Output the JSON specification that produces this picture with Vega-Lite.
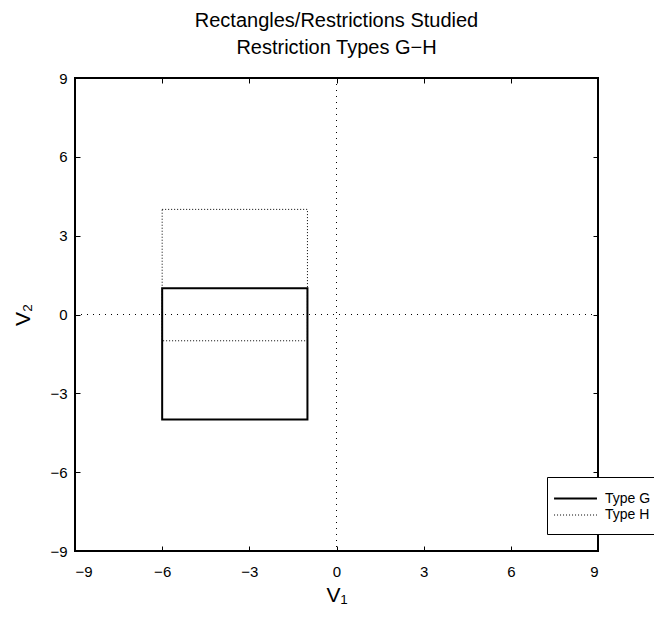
{
  "$schema": "https://vega.github.io/schema/vega-lite/v6.json",
  "width": 523,
  "height": 473,
  "autosize": "none",
  "padding": {"left": 75, "top": 78, "right": 56, "bottom": 71},
  "background": "white",
  "config": {
    "font": "Liberation Sans",
    "view": {"stroke": "black", "strokeWidth": 2},
    "axis": {
      "grid": false,
      "domain": false,
      "tickColor": "black",
      "tickSize": -5,
      "tickWidth": 1,
      "labelFontSize": 15,
      "labelColor": "black",
      "titleFontSize": 21,
      "titleFontWeight": "normal",
      "titleColor": "black"
    }
  },
  "title": {
    "text": ["Rectangles/Restrictions Studied", "Restriction Types G−H"],
    "fontSize": 20,
    "fontWeight": "normal",
    "lineHeight": 27,
    "offset": 13,
    "anchor": "middle",
    "color": "black"
  },
  "data": {
    "values": [
      {"type": "Type H", "x1": -6, "x2": -1, "y1": -1, "y2": 4},
      {"type": "Type G", "x1": -6, "x2": -1, "y1": -4, "y2": 1}
    ]
  },
  "layer": [
    {
      "mark": {"type": "rule", "strokeDash": [1, 5], "color": "black", "strokeWidth": 1},
      "encoding": {
        "y": {"datum": 0, "type": "quantitative", "scale": {"domain": [-9, 9], "nice": false, "zero": false}, "axis": null}
      }
    },
    {
      "mark": {"type": "rule", "strokeDash": [1, 5], "color": "black", "strokeWidth": 1},
      "encoding": {
        "x": {"datum": 0, "type": "quantitative", "scale": {"domain": [-9, 9], "nice": false, "zero": false}, "axis": null}
      }
    },
    {
      "transform": [{"filter": "datum.type === 'Type H'"}],
      "mark": {"type": "rect", "filled": false, "stroke": "black", "strokeWidth": 1, "strokeDash": [1, 2]},
      "encoding": {
        "x": {"field": "x1", "type": "quantitative", "scale": {"domain": [-9, 9], "nice": false, "zero": false}, "axis": null},
        "x2": {"field": "x2"},
        "y": {"field": "y1", "type": "quantitative", "scale": {"domain": [-9, 9], "nice": false, "zero": false}, "axis": null},
        "y2": {"field": "y2"}
      }
    },
    {
      "transform": [{"filter": "datum.type === 'Type G'"}],
      "mark": {"type": "rect", "filled": false, "stroke": "black", "strokeWidth": 2},
      "encoding": {
        "x": {
          "field": "x1", "type": "quantitative",
          "scale": {"domain": [-9, 9], "nice": false, "zero": false},
          "axis": {"values": [-9, -6, -3, 0, 3, 6, 9], "title": "V₁", "labelPadding": 18, "titlePadding": 5, "orient": "bottom"}
        },
        "x2": {"field": "x2"},
        "y": {
          "field": "y1", "type": "quantitative",
          "scale": {"domain": [-9, 9], "nice": false, "zero": false},
          "axis": {"values": [-9, -6, -3, 0, 3, 6, 9], "title": "V₂", "labelPadding": 13, "titlePadding": 16, "orient": "left"}
        },
        "y2": {"field": "y2"},
        "strokeWidth": {
          "field": "type", "type": "nominal",
          "scale": {"domain": ["Type G", "Type H"], "range": [2, 1]},
          "legend": {
            "orient": "none", "legendX": 472, "legendY": 399,
            "title": null, "strokeColor": "black", "fillColor": "white",
            "padding": 12, "symbolType": "M-1.7,0H3.35", "symbolSize": 289,
            "symbolStrokeColor": "black", "labelFontSize": 14, "labelColor": "black",
            "rowPadding": 0, "labelOffset": 27,
            "encode": {
              "symbols": {
                "update": {
                  "strokeDash": {"signal": "datum.value === 'Type H' ? [1, 2] : [1, 0]"},
                  "strokeWidth": {"signal": "datum.value === 'Type H' ? 1 : 2"}
                }
              }
            }
          }
        }
      }
    },
    {
      "mark": {"type": "rule", "opacity": 0},
      "encoding": {
        "x": {
          "datum": 0, "type": "quantitative",
          "scale": {"domain": [-9, 9], "nice": false, "zero": false},
          "axis": {"values": [-9, -6, -3, 0, 3, 6, 9], "title": null, "labels": false, "orient": "top"}
        },
        "y": {
          "datum": 0, "type": "quantitative",
          "scale": {"domain": [-9, 9], "nice": false, "zero": false},
          "axis": {"values": [-9, -6, -3, 0, 3, 6, 9], "title": null, "labels": false, "orient": "right"}
        }
      }
    }
  ],
  "resolve": {"scale": {"x": "shared", "y": "shared"}, "axis": {"x": "independent", "y": "independent"}}
}
